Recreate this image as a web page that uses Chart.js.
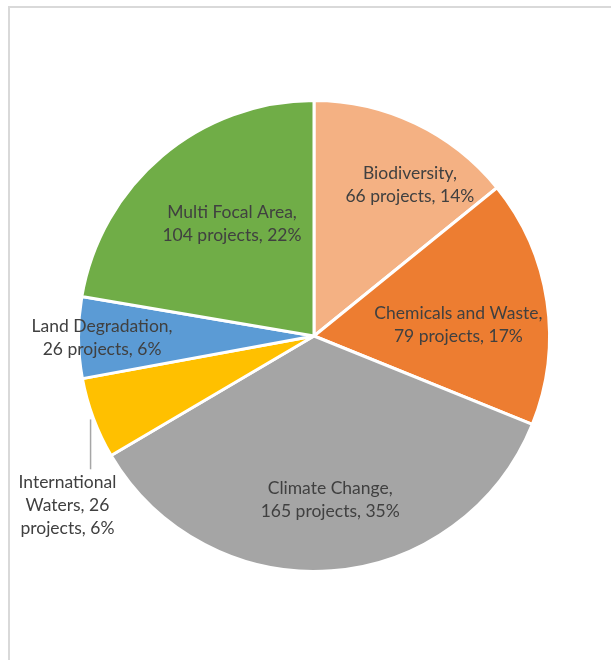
<!DOCTYPE html>
<html>
<head>
<meta charset="utf-8">
<script src="https://cdn.jsdelivr.net/npm/chart.js@4"></script>
<style>
html,body{margin:0;padding:0;width:611px;height:660px;overflow:hidden;background:#fff;}
#frame{position:absolute;left:8px;top:6px;width:700px;height:700px;border:2px solid #d9d9d9;box-sizing:border-box;}
#wrap{position:absolute;left:0;top:0;width:611px;height:660px;}
</style>
</head>
<body>
<div id="frame"></div>
<div id="wrap"><canvas id="c" width="611" height="660"></canvas></div>
<script>
const categories = ["Biodiversity", "Chemicals and Waste", "Climate Change", "International Waters", "Land Degradation", "Multi Focal Area"];
const projects = [66, 79, 165, 26, 26, 104];
const colors = ["#F4B183", "#ED7D31", "#A5A5A5", "#FFC000", "#5B9BD5", "#70AD47"];
// label placement: [angle shift in degrees from slice middle, distance as fraction of radius, outside?]
const labelShift = [6.9, 4.1, -1.4, -14, -0.1, 4];
const labelDist = [0.76, 0.615, 0.70, 1.27, 0.90, 0.59];
const labelOutside = [false, false, false, true, false, false];

const total = projects.reduce((a, b) => a + b, 0);
const FONT = '17.5px Lato, "Open Sans", sans-serif';
const LINE_H = 23;

function wrapWords(ctx, text, maxW) {
  const words = text.split(' ');
  const lines = [];
  let cur = '';
  for (const w of words) {
    const t = cur ? cur + ' ' + w : w;
    if (ctx.measureText(t).width > maxW && cur) { lines.push(cur); cur = w; }
    else cur = t;
  }
  if (cur) lines.push(cur);
  return lines;
}

const labelPlugin = {
  id: 'sliceLabels',
  afterDatasetsDraw(chart) {
    const ctx = chart.ctx;
    const meta = chart.getDatasetMeta(0);
    ctx.save();
    ctx.font = FONT;
    ctx.fillStyle = '#404040';
    ctx.textAlign = 'center';
    ctx.textBaseline = 'middle';
    meta.data.forEach((arc, i) => {
      const p = arc.getProps(['x', 'y', 'startAngle', 'endAngle', 'outerRadius'], true);
      const mid = (p.startAngle + p.endAngle) / 2;
      const a = mid + labelShift[i] * Math.PI / 180;
      const d = p.outerRadius * labelDist[i];
      const lx = p.x + Math.cos(a) * d;
      const ly = p.y + Math.sin(a) * d;
      const pct = Math.round(projects[i] / total * 100);
      let lines;
      if (labelOutside[i]) {
        lines = wrapWords(ctx, categories[i] + ', ' + projects[i] + ' projects, ' + pct + '%', 105);
      } else {
        lines = [categories[i] + ',', projects[i] + ' projects, ' + pct + '%'];
      }
      const top = ly - (lines.length - 1) * LINE_H / 2;
      lines.forEach((ln, k) => ctx.fillText(ln, lx, top + k * LINE_H));
      if (labelOutside[i]) {
        const ex = p.x + Math.cos(mid) * (p.outerRadius + 3);
        const ey = p.y + Math.sin(mid) * (p.outerRadius + 3);
        ctx.strokeStyle = '#A6A6A6';
        ctx.lineWidth = 1.5;
        ctx.beginPath();
        ctx.moveTo(ex, ey);
        ctx.lineTo(ex, top - 13);
        ctx.stroke();
      }
    });
    ctx.restore();
  }
};

new Chart(document.getElementById('c'), {
  type: 'pie',
  data: {
    labels: categories,
    datasets: [{
      data: projects,
      backgroundColor: colors,
      borderColor: '#ffffff',
      borderWidth: 3,
      hoverOffset: 0
    }]
  },
  options: {
    responsive: false,
    animation: false,
    events: [],
    layout: { padding: { left: 77, right: 60, top: 99, bottom: 87 } },
    plugins: { legend: { display: false }, tooltip: { enabled: false }, title: { display: false } }
  },
  plugins: [labelPlugin]
});
</script>
</body>
</html>
